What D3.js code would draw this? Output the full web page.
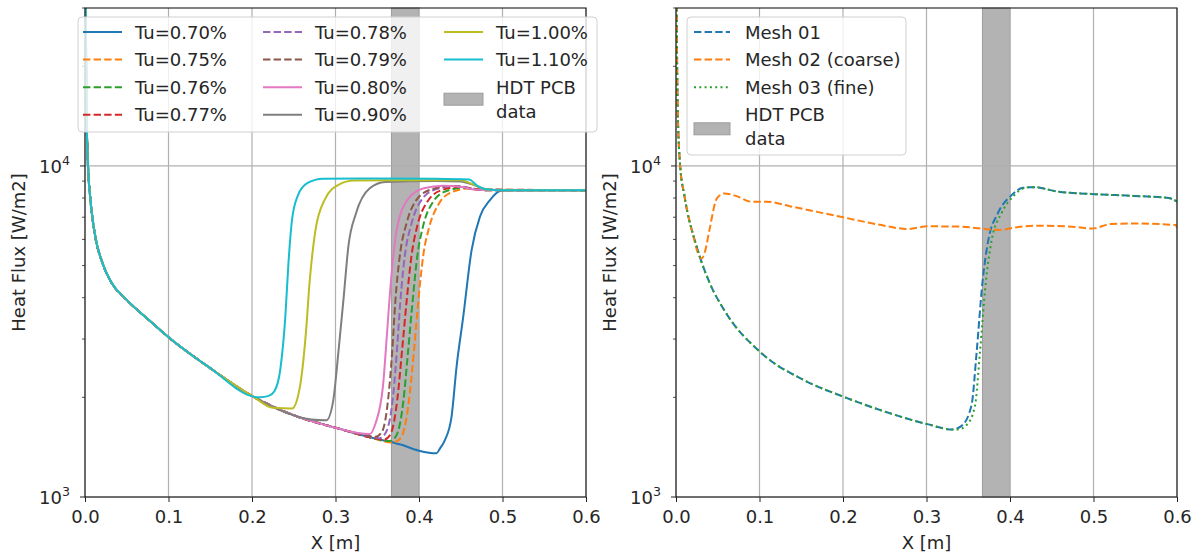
<!DOCTYPE html>
<html>
<head>
<meta charset="utf-8">
<script src="https://cdn.jsdelivr.net/npm/d3@7"></script>
<style>
  body { margin: 0; background: #fff; }
  svg { display: block; font-family: "DejaVu Sans", sans-serif; }
</style>
</head>
<body>
<svg id="chart" width="1199" height="553"></svg>
<script>
// ---- data -------------------------------------------------------------
const xTickValues = [0, 0.1, 0.2, 0.3, 0.4, 0.5, 0.6];
const xTickLabels = ["0.0", "0.1", "0.2", "0.3", "0.4", "0.5", "0.6"];
const yMajorTicks = [1e3, 1e4];
const yMajorExponents = ["3", "4"];
const yMinorTicks = [2e3, 3e3, 4e3, 5e3, 6e3, 7e3, 8e3, 9e3, 2e4, 3e4];
const xDomain = [0, 0.6];
const yDomain = [1e3, 3e4];
const pcbBand = [0.367, 0.400];
const pcbLabel = ["HDT PCB", "data"];

// shared leading-edge decay seen by every turbulence case
const decayShared = [[0, 60000], [0.0018, 15000], [0.0036, 10000], [0.006, 8150], [0.011, 6400],
  [0.0213, 5060], [0.031, 4470], [0.049, 3960], [0.075, 3450], [0.1, 3040], [0.151, 2440],
  [0.2015, 2010], [0.253, 1755], [0.3036, 1610], [0.341, 1515], [0.378, 1440]];

const tuLabels = ["Tu=0.70%", "Tu=0.75%", "Tu=0.76%", "Tu=0.77%", "Tu=0.78%", "Tu=0.79%",
  "Tu=0.80%", "Tu=0.90%", "Tu=1.00%", "Tu=1.10%"];
const tuColors = ["#1f77b4", "#ff7f0e", "#2ca02c", "#d62728", "#9467bd", "#8c564b",
  "#e377c2", "#7f7f7f", "#bcbd22", "#17becf"];
const tuStyles = ["solid", "dashed", "dashed", "dashed", "dashed", "dashed",
  "solid", "solid", "solid", "solid"];
// last x of the shared decay that each case still follows
const tuDepart = [0.378, 0.341, 0.341, 0.341, 0.3036, 0.3036, 0.3036, 0.253, 0.2015, 0.2015];
const tuTails = [
  [[0.40, 1380], [0.421, 1355], [0.425, 1400], [0.431, 1486], [0.439, 1750], [0.445, 2478],
   [0.453, 3508], [0.463, 5570], [0.473, 7030], [0.485, 7890], [0.497, 8400], [0.51, 8450], [0.6, 8450]],
  [[0.368, 1460], [0.378, 1505], [0.387, 1870], [0.394, 2770], [0.3992, 3910], [0.405, 5350],
   [0.412, 6500], [0.424, 7700], [0.44, 8350], [0.46, 8550], [0.48, 8450], [0.6, 8450]],
  [[0.364, 1475], [0.372, 1520], [0.381, 1920], [0.387, 2770], [0.3924, 3910], [0.398, 5350],
   [0.405, 6600], [0.417, 7800], [0.433, 8400], [0.455, 8600], [0.475, 8480], [0.6, 8450]],
  [[0.358, 1490], [0.366, 1550], [0.374, 1970], [0.380, 2820], [0.3852, 3910], [0.391, 5350],
   [0.398, 6600], [0.41, 7800], [0.427, 8450], [0.45, 8650], [0.47, 8500], [0.6, 8450]],
  [[0.34, 1525], [0.353, 1505], [0.361, 1580], [0.369, 2020], [0.374, 2870], [0.3777, 3910],
   [0.383, 5350], [0.391, 6700], [0.403, 7900], [0.42, 8500], [0.445, 8700], [0.465, 8520],
   [0.48, 8450], [0.6, 8450]],
  [[0.335, 1540], [0.348, 1520], [0.356, 1580], [0.363, 1970], [0.368, 2770], [0.3717, 3910],
   [0.377, 5350], [0.385, 6700], [0.397, 7900], [0.415, 8500], [0.44, 8700], [0.46, 8550],
   [0.48, 8450], [0.6, 8450]],
  [[0.327, 1560], [0.341, 1550], [0.348, 1670], [0.357, 2180], [0.3617, 3120], [0.3663, 4460],
   [0.3733, 6400], [0.387, 7950], [0.4057, 8560], [0.429, 8720], [0.45, 8650], [0.47, 8470],
   [0.5, 8450], [0.6, 8450]],
  [[0.271, 1715], [0.289, 1705], [0.297, 1935], [0.3036, 2760], [0.3096, 3960], [0.3154, 5710],
   [0.3246, 7200], [0.341, 8560], [0.3594, 8950], [0.42, 9000], [0.45, 8980], [0.466, 8750],
   [0.48, 8500], [0.5, 8450], [0.6, 8450]],
  [[0.225, 1860], [0.248, 1850], [0.2575, 2160], [0.2645, 3120], [0.269, 4460], [0.276, 6400],
   [0.2876, 7950], [0.3036, 8770], [0.3224, 9030], [0.40, 9060], [0.45, 9050], [0.466, 8770],
   [0.48, 8500], [0.5, 8450], [0.6, 8450]],
  [[0.21, 2000], [0.22, 2020], [0.227, 2090], [0.234, 2440], [0.240, 3530], [0.2436, 5060],
   [0.248, 6900], [0.255, 8150], [0.2666, 8885], [0.285, 9150], [0.35, 9170], [0.42, 9150],
   [0.46, 9100], [0.47, 8700], [0.48, 8500], [0.5, 8450], [0.6, 8450]]
];

const meshLabels = ["Mesh 01", "Mesh 02 (coarse)", "Mesh 03 (fine)"];
const meshColors = ["#1f77b4", "#ff7f0e", "#2ca02c"];
const meshStyles = ["dashed", "dashed", "dotted"];
const mesh01 = [[0, 60000], [0.002, 15000], [0.005, 10000], [0.010, 8150], [0.025, 5680], [0.040, 4450],
  [0.058, 3660], [0.1016, 2730], [0.154, 2250], [0.2025, 2000], [0.2505, 1810], [0.301, 1660],
  [0.3307, 1600], [0.342, 1640], [0.354, 1900], [0.360, 2730], [0.367, 4450], [0.374, 5960],
  [0.3856, 7210], [0.4016, 8150], [0.4155, 8590], [0.429, 8630], [0.4567, 8370], [0.502, 8220],
  [0.548, 8120], [0.59, 8000], [0.6, 7800]];
const mesh02 = [[0, 60000], [0.002, 15000], [0.005, 10000], [0.010, 8150], [0.02, 6250], [0.028, 5330],
  [0.0307, 5250], [0.035, 5550], [0.040, 6400], [0.049, 7980], [0.058, 8260], [0.0718, 8120],
  [0.09, 7800], [0.1086, 7800], [0.136, 7560], [0.2004, 6995], [0.2414, 6660], [0.278, 6450],
  [0.301, 6570], [0.3376, 6560], [0.3877, 6410], [0.410, 6540], [0.434, 6600], [0.4795, 6540],
  [0.498, 6470], [0.521, 6680], [0.548, 6700], [0.5986, 6630], [0.6, 6500]];
const mesh03 = [[0, 60000], [0.002, 15000], [0.005, 10000], [0.010, 8150], [0.025, 5680], [0.040, 4450],
  [0.058, 3660], [0.1016, 2730], [0.154, 2250], [0.2025, 2000], [0.2505, 1810], [0.301, 1660],
  [0.3307, 1600], [0.338, 1600], [0.348, 1650], [0.358, 1880], [0.364, 2730], [0.371, 4450],
  [0.378, 5960], [0.39, 7210], [0.405, 8150], [0.418, 8590], [0.429, 8630], [0.4567, 8370],
  [0.502, 8220], [0.548, 8120], [0.59, 8000], [0.6, 7800]];

// ---- drawing ----------------------------------------------------------
const svg = d3.select("#chart");
const TEXT = "#262626";
const FONT = 18;
const dashFor = { solid: null, dashed: "7.4,3.2", dotted: "2,3.3" };

const tuSeries = tuLabels.map((label, i) => ({
  label, color: tuColors[i], style: tuStyles[i],
  points: decayShared.filter(p => p[0] <= tuDepart[i]).concat(tuTails[i])
}));
const meshSeries = [mesh01, mesh02, mesh03].map((pts, i) => ({
  label: meshLabels[i], color: meshColors[i], style: meshStyles[i], points: pts
}));

function drawPanel(opt) {
  const { id, left, right, top, bottom, series, legend } = opt;
  const x = d3.scaleLinear().domain(xDomain).range([left, right]);
  const y = d3.scaleLog().domain(yDomain).range([bottom, top]);
  const g = svg.append("g");

  g.append("clipPath").attr("id", "clip-" + id)
    .append("rect").attr("x", left).attr("y", top).attr("width", right - left).attr("height", bottom - top);

  // measurement band
  g.append("rect")
    .attr("x", x(pcbBand[0])).attr("y", top)
    .attr("width", x(pcbBand[1]) - x(pcbBand[0])).attr("height", bottom - top)
    .attr("fill", "#b3b3b3").attr("stroke", "#9c9c9c").attr("stroke-width", 1);

  // grid
  g.append("g").selectAll("line").data(xTickValues).join("line")
    .attr("x1", d => x(d)).attr("x2", d => x(d)).attr("y1", top).attr("y2", bottom)
    .attr("stroke", "#b0b0b0").attr("stroke-width", 1.2);
  g.append("g").selectAll("line").data(yMajorTicks).join("line")
    .attr("x1", left).attr("x2", right).attr("y1", d => y(d)).attr("y2", d => y(d))
    .attr("stroke", "#b0b0b0").attr("stroke-width", 1.2);

  // curves
  const line = d3.line().x(d => x(d[0])).y(d => y(d[1])).curve(d3.curveMonotoneX);
  g.append("g").attr("clip-path", `url(#clip-${id})`)
    .selectAll("path").data(series).join("path")
    .attr("d", d => line(d.points))
    .attr("fill", "none")
    .attr("stroke", d => d.color)
    .attr("stroke-width", 2)
    .attr("stroke-dasharray", d => dashFor[d.style]);

  // x axis
  const xAxis = d3.axisBottom(x).tickValues(xTickValues)
    .tickFormat((d, i) => xTickLabels[i]).tickSize(5).tickPadding(8);
  const gx = g.append("g").attr("transform", `translate(0,${bottom})`).call(xAxis);
  gx.select(".domain").remove();
  gx.selectAll("line").attr("stroke", "#222").attr("stroke-width", 1);
  gx.selectAll("text").attr("font-size", FONT).attr("fill", TEXT).attr("font-family", "DejaVu Sans");

  // y axis (log): major ticks with power labels, minor ticks unlabeled
  const gy = g.append("g");
  gy.selectAll("line.minor").data(yMinorTicks).join("line").attr("class", "minor")
    .attr("x1", left - 3).attr("x2", left).attr("y1", d => y(d)).attr("y2", d => y(d))
    .attr("stroke", "#222").attr("stroke-width", 0.8);
  gy.selectAll("line.major").data(yMajorTicks).join("line").attr("class", "major")
    .attr("x1", left - 5).attr("x2", left).attr("y1", d => y(d)).attr("y2", d => y(d))
    .attr("stroke", "#222").attr("stroke-width", 1);
  const yl = gy.selectAll("text").data(yMajorTicks).join("text")
    .attr("x", left - 15).attr("y", d => y(d) + 7)
    .attr("text-anchor", "end").attr("font-size", FONT).attr("fill", TEXT);
  yl.append("tspan").text("10");
  yl.append("tspan").text((d, i) => yMajorExponents[i]).attr("font-size", FONT * 0.7).attr("dy", -8);

  // frame
  g.append("rect").attr("x", left).attr("y", top).attr("width", right - left).attr("height", bottom - top)
    .attr("fill", "none").attr("stroke", "#1a1a1a").attr("stroke-width", 1.1);

  // axis titles
  g.append("text").attr("x", (left + right) / 2).attr("y", bottom + 52)
    .attr("text-anchor", "middle").attr("font-size", FONT).attr("fill", TEXT).text("X [m]");
  g.append("text")
    .attr("transform", `translate(${left - 60},${(top + bottom) / 2}) rotate(-90)`)
    .attr("text-anchor", "middle").attr("font-size", FONT).attr("fill", TEXT).text("Heat Flux [W/m2]");

  // legend
  const lg = g.append("g");
  lg.append("rect").attr("x", legend.x).attr("y", legend.y).attr("width", legend.w).attr("height", legend.h)
    .attr("rx", 4).attr("fill", "#fff").attr("fill-opacity", 0.8)
    .attr("stroke", "#d0d0d0").attr("stroke-width", 1);
  const rows = legend.rows;
  series.forEach((s, i) => {
    const col = Math.floor(i / rows), row = i % rows;
    const hx = legend.colX[col], cy = legend.rowY0 + row * legend.rowGap;
    lg.append("line").attr("x1", hx).attr("x2", hx + legend.handle).attr("y1", cy).attr("y2", cy)
      .attr("stroke", s.color).attr("stroke-width", 2).attr("stroke-dasharray", dashFor[s.style]);
    lg.append("text").attr("x", hx + legend.handle + legend.textGap).attr("y", cy + 6.5)
      .attr("font-size", legend.font).attr("fill", TEXT).text(s.label);
  });
  const pi = series.length;
  const pcol = Math.floor(pi / rows), prow = pi % rows;
  const px = legend.colX[pcol], py0 = legend.rowY0 + prow * legend.rowGap;
  const pcy = py0 + legend.patchOffset;
  lg.append("rect").attr("x", px).attr("y", pcy - 6).attr("width", legend.handle).attr("height", 12)
    .attr("fill", "#b3b3b3").attr("stroke", "#9c9c9c").attr("stroke-width", 1);
  pcbLabel.forEach((t, k) => {
    lg.append("text").attr("x", px + legend.handle + legend.textGap).attr("y", py0 + 6.5 + k * 24)
      .attr("font-size", legend.font).attr("fill", TEXT).text(t);
  });
}

drawPanel({
  id: "tu", left: 85, right: 586, top: 8, bottom: 497, series: tuSeries,
  legend: { x: 78, y: 17, w: 519, h: 115, rows: 4, colX: [83, 263, 444], rowY0: 32, rowGap: 27.6,
            handle: 39, textGap: 13, font: 18, patchOffset: 12 }
});
drawPanel({
  id: "mesh", left: 676, right: 1177, top: 8, bottom: 497, series: meshSeries,
  legend: { x: 687, y: 17, w: 219, h: 138, rows: 4, colX: [694], rowY0: 32, rowGap: 27.6,
            handle: 36, textGap: 15, font: 18, patchOffset: 14 }
});
</script>
</body>
</html>
